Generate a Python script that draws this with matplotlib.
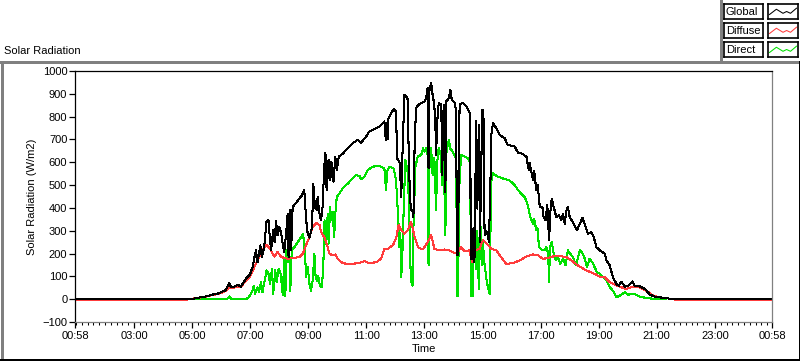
import matplotlib.pyplot as plt
from matplotlib.lines import Line2D

plt.rcParams['font.family'] = ['Liberation Sans', 'DejaVu Sans']
plt.rcParams['font.size'] = 8

W, H = 800, 361

# time axis: 00:58 to 00:58 next day (clock hours)
t_start = 0.9667
t_end = 24.9667
tick_hours = [t_start, 3, 5, 7, 9, 11, 13, 15, 17, 19, 21, 23, t_end]
tick_labels = ['00:58', '03:00', '05:00', '07:00', '09:00', '11:00', '13:00',
               '15:00', '17:00', '19:00', '21:00', '23:00', '00:58']

# Global radiation (W/m2)
t_global = [
    0.967, 5.00, 5.13, 5.47, 5.70, 5.93, 6.16, 6.25, 6.28, 6.33, 6.39, 6.50, 6.56, 6.68,
    6.85, 6.99, 7.08, 7.15, 7.20, 7.25, 7.30, 7.35, 7.40, 7.48, 7.56, 7.63, 7.68, 7.72,
    7.79, 7.84, 7.89, 7.94, 8.00, 8.07, 8.12, 8.17, 8.23, 8.29, 8.32, 8.35, 8.37, 8.41,
    8.46, 8.58, 8.69, 8.78, 8.86, 8.90, 8.94, 8.98, 9.04, 9.10, 9.13, 9.17, 9.23, 9.29,
    9.32, 9.36, 9.40, 9.44, 9.49, 9.55, 9.59, 9.63, 9.67, 9.70, 9.73, 9.76, 9.79, 9.82,
    9.87, 9.93, 9.98, 10.05, 10.18, 10.36, 10.53, 10.70, 10.82, 10.99, 11.10, 11.28,
    11.45, 11.62, 11.65, 11.68, 11.70, 11.73, 11.76, 11.85, 11.94, 12.02, 12.06, 12.10,
    12.15, 12.20, 12.25, 12.31, 12.37, 12.43, 12.46, 12.50, 12.53, 12.58, 12.62, 12.66,
    12.71, 12.80, 12.89, 13.00, 13.06, 13.11, 13.14, 13.17, 13.23, 13.28, 13.32, 13.37,
    13.40, 13.44, 13.49, 13.58, 13.61, 13.66, 13.72, 13.75, 13.84, 13.89, 13.94, 14.04,
    14.09, 14.11, 14.12, 14.16, 14.18, 14.21, 14.32, 14.44, 14.53, 14.58, 14.59, 14.64,
    14.69, 14.72, 14.78, 14.82, 14.87, 14.91, 14.99, 15.03, 15.07, 15.12, 15.18, 15.22,
    15.27, 15.30, 15.36, 15.47, 15.59, 15.76, 15.87, 16.11, 16.22, 16.33, 16.51, 16.59,
    16.62, 16.74, 16.78, 16.85, 16.90, 16.97, 17.06, 17.10, 17.17, 17.23, 17.29, 17.34,
    17.38, 17.45, 17.54, 17.63, 17.71, 17.77, 17.83, 17.89, 17.94, 18.00, 18.11, 18.25,
    18.35, 18.44, 18.55, 18.63, 18.74, 18.83, 18.92, 19.04, 19.21, 19.27, 19.38, 19.49,
    19.61, 19.69, 19.78, 19.90, 20.01, 20.16, 20.24, 20.41, 20.59, 20.76, 20.93, 21.11,
    21.34, 21.55, 24.967]
global_wm2 = [
    0, 0, 5, 12, 20, 26, 40, 62, 70, 55, 52, 58, 64, 55,
    89, 108, 140, 187, 214, 162, 200, 236, 184, 228, 338, 346, 260, 214,
    302, 250, 343, 280, 316, 287, 240, 206, 280, 375, 184, 350, 390, 214,
    404, 422, 441, 455, 478, 400, 330, 287, 270, 300, 316, 507, 404, 390,
    448, 400, 360, 346, 404, 581, 640, 478, 600, 610, 530, 522, 600, 596,
    515, 625, 566, 625, 637, 662, 684, 698, 686, 713, 735, 745,
    757, 779, 720, 698, 773, 700, 790, 816, 833, 823, 617, 610,
    596, 448, 669, 896, 889, 874, 596, 470, 390, 390, 360, 669,
    838, 852, 860, 867, 881, 926, 573, 911, 948, 896, 867, 801,
    632, 779, 860, 852, 544, 852, 470, 867, 881, 919, 874, 860,
    823, 400, 192, 192, 600, 852, 860, 845, 823, 808, 177, 177,
    310, 162, 779, 397, 764, 250, 830, 823, 280, 300, 280, 250,
    500, 720, 772, 750, 720, 705, 676, 669, 642, 640, 625, 566,
    596, 522, 560, 478, 500, 404, 404, 360, 346, 412, 258, 390,
    441, 404, 360, 368, 346, 375, 331, 390, 404, 360, 338, 302,
    331, 356, 316, 287, 294, 272, 228, 214, 199, 170, 148, 96,
    67, 59, 77, 55, 59, 78, 59, 56, 45, 20, 11, 8,
    4, 0, 0]

# Diffuse radiation (W/m2)
t_diffuse = [
    0.967, 4.80, 4.85, 5.13, 5.47, 5.70, 5.93, 6.16, 6.28, 6.39, 6.56, 6.68, 6.85, 6.99,
    7.14, 7.31, 7.45, 7.56, 7.68, 7.83, 7.94, 8.06, 8.17, 8.29, 8.46, 8.69, 8.81, 8.92,
    9.04, 9.15, 9.27, 9.39, 9.44, 9.55, 9.63, 9.73, 9.84, 9.93, 10.01, 10.13, 10.30,
    10.53, 10.76, 10.93, 11.10, 11.34, 11.51, 11.62, 11.74, 11.91, 12.02, 12.11, 12.20,
    12.31, 12.43, 12.53, 12.58, 12.66, 12.78, 12.89, 12.95, 13.11, 13.23, 13.34, 13.52,
    13.69, 13.86, 13.97, 14.12, 14.26, 14.38, 14.55, 14.64, 14.76, 14.90, 15.01, 15.15,
    15.30, 15.47, 15.64, 15.81, 16.05, 16.28, 16.51, 16.74, 16.91, 17.08, 17.25, 17.42,
    17.66, 17.89, 18.06, 18.28, 18.57, 18.86, 19.04, 19.21, 19.38, 19.56, 19.78, 19.95,
    20.19, 20.41, 20.65, 20.88, 21.11, 21.34, 21.60, 21.68, 24.967]
diffuse_wm2 = [
    -4, -4, 0, 4, 11, 18, 24, 37, 50, 48, 55, 52, 82, 100,
    140, 184, 222, 239, 221, 187, 206, 187, 180, 177, 181, 184, 199, 236,
    272, 316, 334, 324, 294, 272, 243, 199, 192, 196, 177, 162, 155,
    155, 159, 167, 158, 162, 177, 221, 221, 236, 265, 324, 302,
    287, 302, 338, 320, 272, 228, 221, 218, 250, 283, 221, 214,
    218, 214, 206, 199, 228, 209, 214, 162, 214, 221, 258, 243,
    221, 214, 184, 155, 158, 170, 187, 196, 192, 177, 180, 187,
    189, 184, 170, 148, 126, 111, 99, 96, 74, 63, 52, 45,
    55, 52, 37, 15, 8, 4, 0, -4, -4]

# Direct radiation (W/m2)
t_direct = [
    5.10, 6.20, 6.28, 6.35, 6.85, 6.95, 7.08, 7.12, 7.17, 7.25, 7.30, 7.37, 7.42, 7.52,
    7.56, 7.63, 7.68, 7.75, 7.79, 7.86, 7.91, 7.98, 8.05, 8.12, 8.17, 8.21, 8.25, 8.29,
    8.35, 8.38, 8.43, 8.52, 8.69, 8.82, 8.89, 8.92, 8.98, 9.04, 9.09, 9.15, 9.21, 9.24,
    9.29, 9.34, 9.40, 9.47, 9.52, 9.56, 9.61, 9.67, 9.70, 9.75, 9.79, 9.84, 9.89, 9.93,
    9.98, 10.07, 10.18, 10.36, 10.53, 10.64, 10.76, 10.82, 10.93, 11.05, 11.22, 11.45,
    11.62, 11.65, 11.68, 11.71, 11.79, 11.94, 12.02, 12.06, 12.10, 12.14, 12.17, 12.20,
    12.24, 12.28, 12.34, 12.39, 12.43, 12.48, 12.53, 12.59, 12.62, 12.69, 12.77, 12.89,
    12.95, 13.00, 13.06, 13.11, 13.14, 13.17, 13.23, 13.28, 13.34, 13.40, 13.44, 13.49,
    13.55, 13.61, 13.66, 13.72, 13.75, 13.84, 13.89, 13.97, 14.09, 14.11, 14.12, 14.16,
    14.19, 14.26, 14.38, 14.49, 14.57, 14.61, 14.66, 14.70, 14.78, 14.82, 14.87, 14.91,
    14.97, 15.01, 15.07, 15.15, 15.24, 15.30, 15.36, 15.53, 15.70, 15.93, 16.11, 16.22,
    16.33, 16.45, 16.56, 16.64, 16.74, 16.78, 16.85, 16.90, 16.94, 17.03, 17.14, 17.20,
    17.26, 17.29, 17.32, 17.38, 17.45, 17.52, 17.60, 17.68, 17.77, 17.86, 17.94, 18.02,
    18.11, 18.22, 18.35, 18.44, 18.52, 18.60, 18.68, 18.78, 18.86, 18.94, 19.04, 19.15,
    19.24, 19.38, 19.49, 19.61, 19.72, 19.90, 20.01, 20.24, 20.41, 20.65, 20.88, 21.30]
direct_wm2 = [
    0, 0, 12, 0, 0, 8, 37, 59, 24, 52, 30, 74, 30, 96,
    126, 111, 67, 133, 23, 126, 74, 133, 110, 20, 170, 15, 214, 162,
    199, 37, 214, 228, 260, 287, 199, 96, 140, 67, 37, 81, 199, 111,
    81, 100, 59, 52, 162, 346, 243, 375, 243, 404, 346, 383, 272, 375,
    448, 463, 485, 507, 529, 544, 540, 525, 537, 566, 581, 584,
    573, 522, 478, 560, 581, 573, 522, 434, 346, 228, 290, 96,
    199, 375, 610, 581, 551, 346, 81, 59, 316, 581, 625, 632,
    662, 647, 662, 632, 148, 573, 662, 544, 620, 390, 600, 662,
    640, 500, 640, 280, 640, 698, 660, 647, 617, 300, 15, 15,
    470, 632, 625, 617, 603, 15, 15, 280, 133, 300, 45, 397,
    150, 250, 150, 74, 23, 515, 551, 537, 529, 520, 500, 478,
    463, 448, 412, 360, 331, 350, 302, 310, 228, 217, 214, 228,
    200, 74, 228, 250, 200, 170, 184, 155, 177, 148, 214, 199,
    184, 148, 214, 202, 177, 140, 177, 162, 140, 118, 111, 96,
    89, 52, 37, 8, 15, 30, 20, 23, 11, 5, 2, 2]

series_names = ['Global', 'Diffuse', 'Direct']
series_colors = ['#000000', '#ff3c3c', '#00e000']
gray = '#808080'
LW = 0.75  # about one pixel


def px_box(x0, y0, x1, y1):
    # pixel box (top-left origin) -> figure fraction rect
    return [x0 / W, 1 - y1 / H, (x1 - x0) / W, (y1 - y0) / H]


def px_line(xs, ys, color, lw=LW):
    fig.add_artist(Line2D([x / W for x in xs], [1 - y / H for y in ys],
                          color=color, lw=lw, transform=fig.transFigure,
                          antialiased=False))


fig = plt.figure(figsize=(W / 100, H / 100), dpi=100)
fig.patch.set_facecolor('white')

# panel frame
px_line([0, 800], [61.5, 61.5], gray)
px_line([1.5, 1.5], [61.5, 360], gray)
px_line([0, 800], [359.5, 359.5], 'black')
px_line([799.5, 799.5], [61.5, 360], 'black')
px_line([720.5, 720.5], [0, 61.5], gray)
fig.text(4 / W, 1 - 51 / H, 'Solar Radiation', ha='left', va='center', fontsize=8)

# main chart
ax = fig.add_axes(px_box(75, 71, 772, 322))
ax.plot(t_direct, direct_wm2, color=series_colors[2], lw=LW, antialiased=False)
ax.plot(t_diffuse, diffuse_wm2, color=series_colors[1], lw=LW, antialiased=False)
ax.plot(t_global, global_wm2, color=series_colors[0], lw=LW, antialiased=False)

ax.set_xlim(t_start, t_end)
ax.set_ylim(-100, 1000)
ax.set_yticks(range(-100, 1001, 100))
ax.set_xticks(tick_hours)
ax.set_xticklabels(tick_labels)
ax.set_xticks([1 + 0.2 * i for i in range(120)], minor=True)
ax.tick_params(axis='y', which='major', direction='out', length=4, width=0.9,
               pad=1.5, labelsize=8)
ax.tick_params(axis='x', which='major', direction='out', length=4.5, width=0.9,
               pad=2, labelsize=8)
ax.tick_params(axis='x', which='minor', direction='out', length=2.5, width=0.75)
ax.spines['top'].set_color('black')
ax.spines['left'].set_color('black')
ax.spines['right'].set_color(gray)
ax.spines['bottom'].set_color(gray)
for s in ax.spines.values():
    s.set_linewidth(0.9)
ax.set_xlabel('Time', fontsize=8, labelpad=2)
ax.set_ylabel('Solar Radiation (W/m2)', fontsize=8, labelpad=4)

# legend (label boxes + sample boxes)
zig_x = [0.05, 0.28, 0.5, 0.62, 0.75, 0.95]
zig_y = [0.3, 0.65, 0.38, 0.5, 0.38, 0.72]
rows = [(4, 19), (23, 38), (42, 57)]
for (y0, y1), name, col in zip(rows, series_names, series_colors):
    lab = fig.add_axes(px_box(724, y0, 763, y1))
    lab.set_xticks([])
    lab.set_yticks([])
    lab.set_xlim(0, 1)
    lab.set_ylim(0, 1)
    lab.text(0.05, 0.45, name, ha='left', va='center', fontsize=8)
    smp = fig.add_axes(px_box(768, y0, 798, y1))
    smp.set_xticks([])
    smp.set_yticks([])
    smp.set_xlim(0, 1)
    smp.set_ylim(0, 1)
    smp.plot(zig_x, zig_y, color=col, lw=LW)
    for a in (lab, smp):
        for s in a.spines.values():
            s.set_linewidth(1.2)
            s.set_color('black')

fig.savefig('out.png', dpi=100, facecolor='white')
